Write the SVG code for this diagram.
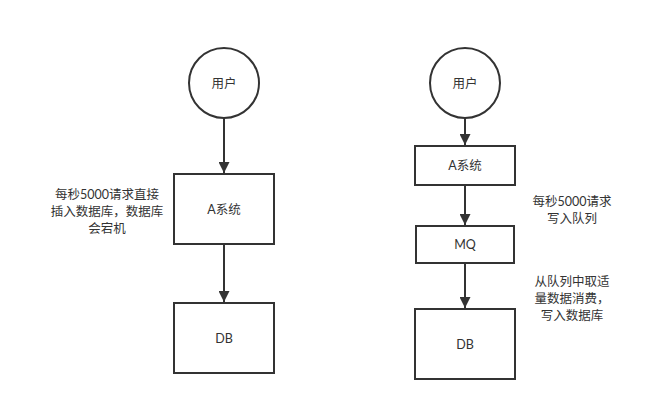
<svg xmlns="http://www.w3.org/2000/svg" width="648" height="411" viewBox="0 0 648 411">
<defs>
<style>
.n{fill:#fff;stroke:#333;stroke-width:2}
.t{font-family:Lato,"Noto Sans CJK SC",sans-serif;font-size:12.5px;fill:#333;text-anchor:middle;dominant-baseline:central}
.c{stroke:#333;stroke-width:2;fill:none}
</style>
<marker id="ah" viewBox="0 0 10 10" refX="10" refY="5" markerWidth="5.5" markerHeight="5.5" orient="auto" markerUnits="strokeWidth">
<path d="M0,0 L10,5 L0,10 Z" fill="#333"/>
</marker>
</defs>
<rect width="648" height="411" fill="#fff"/>
<g id="connectors">
<line class="c" x1="224" y1="118" x2="224" y2="173" marker-end="url(#ah)"/>
<line class="c" x1="224" y1="244" x2="224" y2="302" marker-end="url(#ah)"/>
<line class="c" x1="465" y1="118" x2="465" y2="145" marker-end="url(#ah)"/>
<line class="c" x1="465" y1="185" x2="465" y2="225" marker-end="url(#ah)"/>
<line class="c" x1="465" y1="263" x2="465" y2="308" marker-end="url(#ah)"/>
</g>
<g id="user1"><circle class="n" cx="224" cy="83" r="35"/><text class="t" x="224" y="83">用户</text></g>
<g id="a1"><rect class="n" x="174" y="174" width="100" height="70"/><text class="t" x="224" y="209">A系统</text></g>
<g id="db1"><rect class="n" x="174" y="303" width="100" height="70"/><text class="t" x="224" y="338">DB</text></g>
<g id="note1"><text class="t" x="107" y="194">每秒5000请求直接</text><text class="t" x="107" y="211">插入数据库，数据库</text><text class="t" x="107" y="228">会宕机</text></g>
<g id="user2"><circle class="n" cx="465" cy="83" r="35"/><text class="t" x="465" y="83">用户</text></g>
<g id="a2"><rect class="n" x="415" y="146" width="100" height="39"/><text class="t" x="465" y="165.5">A系统</text></g>
<g id="mq"><rect class="n" x="416" y="226" width="98" height="37"/><text class="t" x="465" y="244.5">MQ</text></g>
<g id="db2"><rect class="n" x="415" y="309" width="100" height="70"/><text class="t" x="465" y="344">DB</text></g>
<g id="note2"><text class="t" x="572" y="201">每秒5000请求</text><text class="t" x="572" y="218">写入队列</text></g>
<g id="note3"><text class="t" x="572" y="281.5">从队列中取适</text><text class="t" x="572" y="298.5">量数据消费，</text><text class="t" x="572" y="315.5">写入数据库</text></g>
</svg>
